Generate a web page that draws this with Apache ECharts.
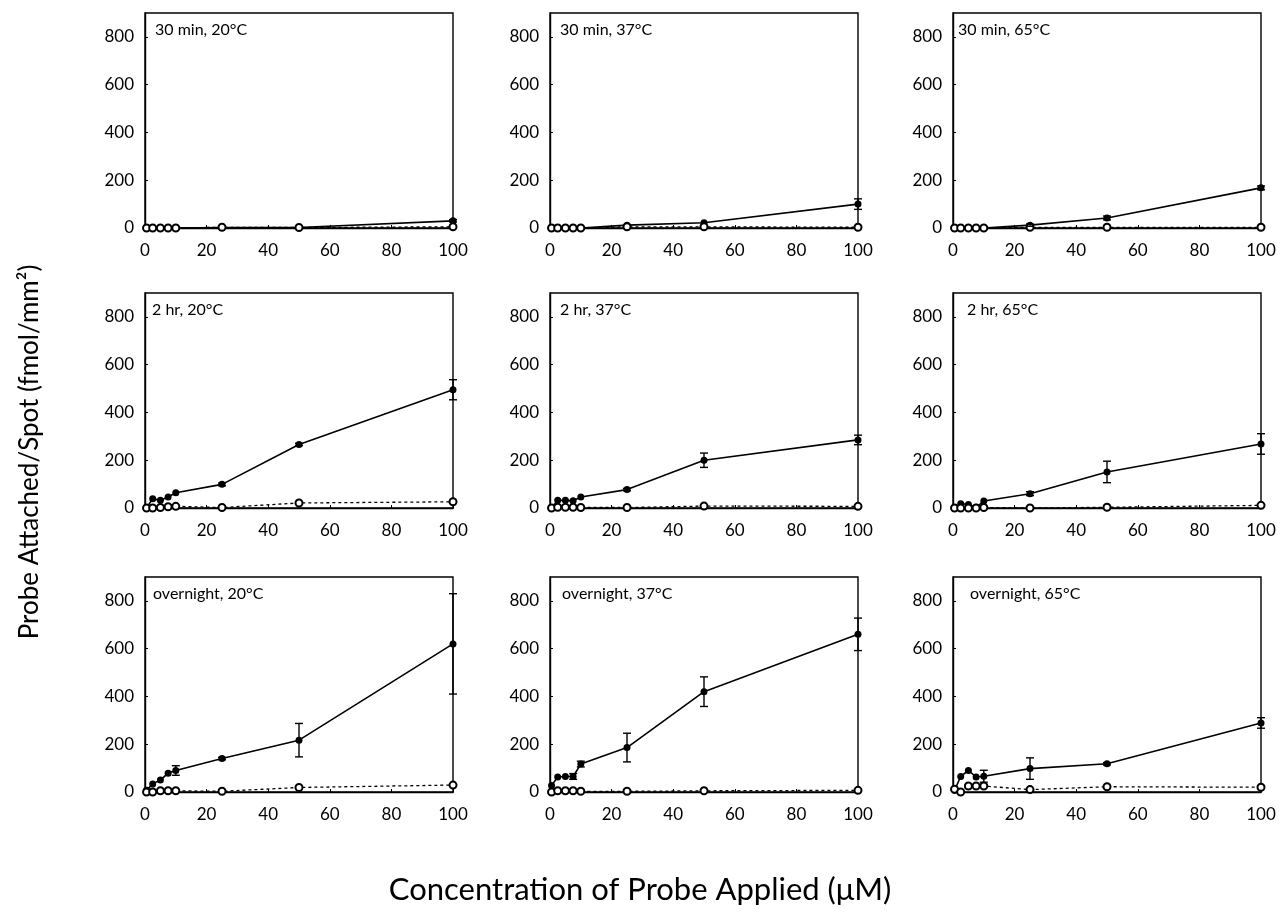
<!DOCTYPE html>
<html>
<head>
<meta charset="utf-8">
<script src="https://cdn.jsdelivr.net/npm/echarts@6/dist/echarts.min.js"></script>
<style>
html,body{margin:0;padding:0;background:#fff;}
#chart{width:1281px;height:918px;}
</style>
</head>
<body>
<div id="chart"></div>
<script>
// ---- data ----
const concentrations = [0.5, 2.5, 5, 7.5, 10, 25, 50, 100];
const xTicks = [0, 20, 40, 60, 80, 100];
const yTicks = [0, 200, 400, 600, 800];
const panelTitles = [
  '30 min, 20°C', '30 min, 37°C', '30 min, 65°C',
  '2 hr, 20°C', '2 hr, 37°C', '2 hr, 65°C',
  'overnight, 20°C', 'overnight, 37°C', 'overnight, 65°C'
];
const yAxisTitle = 'Probe Attached/Spot (fmol/mm²)';
const xAxisTitle = 'Concentration of Probe Applied (μM)';

// filled circles (probe attached), error bars, open circles (control)
const attached_30min_20C = [0, 0, 0, 0, 0, 2, 2, 30];
const err_30min_20C      = [0, 0, 0, 0, 0, 0, 0, 5];
const control_30min_20C  = [0, 0, 0, 0, 0, 3, 2, 5];

const attached_30min_37C = [0, 0, 0, 0, 0, 12, 22, 100];
const err_30min_37C      = [0, 0, 0, 0, 0, 0, 0, 22];
const control_30min_37C  = [0, 0, 0, 0, 0, 5, 5, 3];

const attached_30min_65C = [0, 0, 0, 0, 0, 12, 42, 168];
const err_30min_65C      = [0, 0, 0, 0, 0, 5, 8, 8];
const control_30min_65C  = [0, 0, 0, 0, 0, 3, 3, 3];

const attached_2hr_20C = [0, 39, 32, 46, 64, 99, 266, 495];
const err_2hr_20C      = [0, 0, 0, 0, 0, 6, 5, 42];
const control_2hr_20C  = [0, 0, 2, 5, 7, 2, 21, 26];

const attached_2hr_37C = [0, 32, 32, 30, 46, 77, 200, 285];
const err_2hr_37C      = [0, 0, 0, 0, 0, 5, 30, 20];
const control_2hr_37C  = [0, 3, 3, 3, 2, 2, 8, 7];

const attached_2hr_65C = [0, 18, 15, 3, 29, 60, 151, 268];
const err_2hr_65C      = [0, 0, 0, 0, 0, 8, 45, 43];
const control_2hr_65C  = [0, 0, 0, 0, 2, 0, 3, 11];

const attached_overnight_20C = [7, 34, 50, 79, 90, 140, 217, 620];
const err_overnight_20C      = [0, 0, 0, 0, 20, 5, 70, 210];
const control_overnight_20C  = [0, 0, 5, 5, 5, 3, 19, 29];

const attached_overnight_37C = [27, 63, 65, 65, 117, 186, 420, 660];
const err_overnight_37C      = [0, 0, 0, 12, 12, 60, 62, 68];
const control_overnight_37C  = [0, 5, 5, 5, 3, 3, 5, 7];

const attached_overnight_65C = [7, 65, 90, 63, 66, 98, 118, 289];
const err_overnight_65C      = [0, 0, 0, 0, 25, 45, 5, 22];
const control_overnight_65C  = [12, 0, 25, 25, 25, 10, 22, 20];

const panels = [
  [attached_30min_20C, err_30min_20C, control_30min_20C],
  [attached_30min_37C, err_30min_37C, control_30min_37C],
  [attached_30min_65C, err_30min_65C, control_30min_65C],
  [attached_2hr_20C, err_2hr_20C, control_2hr_20C],
  [attached_2hr_37C, err_2hr_37C, control_2hr_37C],
  [attached_2hr_65C, err_2hr_65C, control_2hr_65C],
  [attached_overnight_20C, err_overnight_20C, control_overnight_20C],
  [attached_overnight_37C, err_overnight_37C, control_overnight_37C],
  [attached_overnight_65C, err_overnight_65C, control_overnight_65C]
];

// ---- layout ----
const FONT = 'Lato, "Noto Sans", sans-serif';
const colLeft = [145, 550, 953];
const rowTop = [13, 293, 577];
const gridW = 308, gridH = 215;
const titleOffsetX = [[10, 10, 5], [7, 10, 14], [8, 12, 17]];

const grids = [], xAxes = [], yAxes = [], series = [], titles = [];
for (let i = 0; i < 9; i++) {
  const r = Math.floor(i / 3), c = i % 3;
  grids.push({left: colLeft[c], top: rowTop[r], width: gridW, height: gridH,
    show: true, borderColor: '#000', borderWidth: 1.4, backgroundColor: 'transparent'});
  xAxes.push({type: 'value', gridIndex: i, min: xTicks[0], max: xTicks[xTicks.length - 1],
    interval: xTicks[1] - xTicks[0],
    axisLine: {show: true, onZero: false, lineStyle: {color: '#000', width: 1.4}},
    axisTick: {show: true, inside: true, length: 3, lineStyle: {color: '#000'}},
    axisLabel: {color: '#000', fontSize: 17, fontFamily: FONT, margin: 14},
    splitLine: {show: false}});
  yAxes.push({type: 'value', gridIndex: i, min: yTicks[0], max: 900,
    interval: yTicks[1] - yTicks[0],
    axisLine: {show: true, onZero: false, lineStyle: {color: '#000', width: 1.4}},
    axisTick: {show: true, inside: true, length: 3, lineStyle: {color: '#000'}},
    axisLabel: {color: '#000', fontSize: 17, fontFamily: FONT, margin: 11, showMaxLabel: false,
      formatter: v => (yTicks.indexOf(v) >= 0 ? String(v) : '')},
    splitLine: {show: false}});
  titles.push({text: panelTitles[i], left: colLeft[c] + titleOffsetX[r][c], top: rowTop[r] + 9,
    padding: 0,
    textStyle: {fontSize: 16, fontWeight: 'normal', color: '#000', fontFamily: FONT}});

  const [att, err, ctl] = panels[i];
  series.push({type: 'line', xAxisIndex: i, yAxisIndex: i,
    data: concentrations.map((x, k) => [x, att[k]]),
    symbol: 'circle', symbolSize: 7,
    itemStyle: {color: '#000'},
    lineStyle: {color: '#000', width: 1.6},
    animation: false, z: 2});
  series.push({type: 'line', xAxisIndex: i, yAxisIndex: i,
    data: concentrations.map((x, k) => [x, ctl[k]]),
    symbol: 'emptyCircle', symbolSize: 7,
    itemStyle: {color: '#000', borderWidth: 1.3},
    lineStyle: {color: '#000', width: 1.3, type: [3, 3]},
    animation: false, z: 3});
  series.push({type: 'custom', xAxisIndex: i, yAxisIndex: i,
    data: concentrations.map((x, k) => [x, att[k], err[k]]),
    renderItem: function (params, api) {
      const x = api.value(0), y = api.value(1), e = api.value(2);
      if (!e) return null;
      const top = api.coord([x, y + e]);
      const bot = api.coord([x, y - e]);
      const cap = 4;
      const st = {stroke: '#000', lineWidth: 1.4};
      return {type: 'group', children: [
        {type: 'line', shape: {x1: top[0], y1: top[1], x2: bot[0], y2: bot[1]}, style: st},
        {type: 'line', shape: {x1: top[0] - cap, y1: top[1], x2: top[0] + cap, y2: top[1]}, style: st},
        {type: 'line', shape: {x1: bot[0] - cap, y1: bot[1], x2: bot[0] + cap, y2: bot[1]}, style: st}
      ]};
    },
    animation: false, z: 4});
}

const chart = echarts.init(document.getElementById('chart'), null, {renderer: 'canvas'});
chart.setOption({
  backgroundColor: '#fff',
  animation: false,
  title: titles,
  grid: grids,
  xAxis: xAxes,
  yAxis: yAxes,
  series: series,
  graphic: [
    {type: 'text', x: 30, y: 452, rotation: Math.PI / 2,
      style: {text: yAxisTitle, fontSize: 26, fontFamily: FONT, fill: '#000',
        textAlign: 'center', textVerticalAlign: 'middle'}},
    {type: 'text', x: 640, y: 890,
      style: {text: xAxisTitle, fontSize: 31, fontFamily: FONT, fill: '#000',
        textAlign: 'center', textVerticalAlign: 'middle'}}
  ]
});
</script>
</body>
</html>
